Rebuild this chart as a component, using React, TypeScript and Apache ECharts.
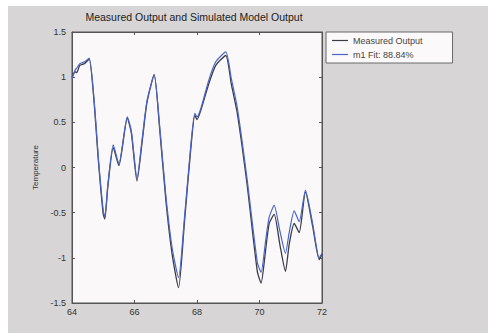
import React, { useEffect, useRef } from "react";
import * as echarts from "echarts";

const time = [64.0, 64.1, 64.15, 64.25, 64.4, 64.55, 64.7, 64.85, 65.0, 65.05, 65.15, 65.32, 65.5, 65.77, 65.9, 66.08, 66.25, 66.4, 66.63, 66.8, 67.0, 67.2, 67.41, 67.6, 67.8, 67.93, 68.0, 68.12, 68.38, 68.6, 68.92, 69.1, 69.29, 69.6, 69.93, 70.05, 70.2, 70.31, 70.47, 70.65, 70.83, 70.95, 71.11, 71.27, 71.47, 71.7, 71.91, 72.0];

const measured = [1.0, 1.06, 1.05, 1.13, 1.15, 1.2, 0.75, 0.05, -0.52, -0.57, -0.2, 0.22, 0.02, 0.55, 0.38, -0.15, 0.3, 0.72, 1.03, 0.45, -0.35, -0.95, -1.33, -0.6, 0.2, 0.58, 0.53, 0.63, 0.93, 1.13, 1.24, 0.92, 0.6, -0.18, -1.15, -1.28, -0.9, -0.62, -0.52, -0.85, -1.15, -0.85, -0.62, -0.72, -0.27, -0.65, -1.02, -0.96];

const simulated = [0.98, 1.08, 1.1, 1.15, 1.17, 1.21, 0.78, 0.08, -0.48, -0.55, -0.18, 0.25, 0.04, 0.56, 0.4, -0.12, 0.33, 0.74, 1.02, 0.48, -0.3, -0.88, -1.22, -0.55, 0.24, 0.6, 0.56, 0.65, 0.97, 1.17, 1.28, 0.98, 0.66, -0.12, -1.05, -1.16, -0.8, -0.55, -0.42, -0.7, -0.95, -0.72, -0.48, -0.6, -0.25, -0.62, -1.0, -0.95];

const seriesNames = ["Measured Output", "m1 Fit: 88.84%"];
const titleText = "Measured Output and Simulated Model Output";
const yName = "Temperature";

const FONT = "Liberation Sans, Arial, sans-serif";

export default function App() {
  const ref = useRef<HTMLDivElement>(null);
  useEffect(() => {
    document.body.style.margin = "0";
    const chart = echarts.init(ref.current!, null, { renderer: "svg" });
    const tickStyle = { show: true, inside: true, length: 3, lineStyle: { color: "#555" } };
    const axisLine = { show: true, onZero: false, lineStyle: { color: "#555" } };
    chart.setOption({
      animation: false,
      backgroundColor: "#ffffff",
      graphic: [
        {
          type: "rect",
          z: -10,
          shape: { x: 8, y: 6, width: 480, height: 327 },
          style: { fill: "#d7d5d5" },
          silent: true,
        },
        {
          type: "text",
          x: 194,
          y: 17,
          style: {
            text: titleText,
            fill: "#222",
            font: `10.5px ${FONT}`,
            align: "center",
            verticalAlign: "middle",
          },
        },
      ],
      legend: {
        left: 326,
        top: 32,
        orient: "vertical",
        backgroundColor: "#fbf9f9",
        borderColor: "#6a6a6a",
        borderWidth: 1,
        borderRadius: 0,
        padding: [4, 30, 4, 6],
        icon: "rect",
        itemWidth: 16,
        itemHeight: 1.2,
        itemGap: 5,
        textStyle: { fontSize: 9, color: "#444", fontFamily: FONT },
        data: seriesNames,
      },
      grid: {
        left: 72,
        top: 32,
        width: 250,
        height: 271,
        show: true,
        backgroundColor: "#faf8f8",
        borderColor: "#555",
        borderWidth: 1,
      },
      xAxis: [
        {
          type: "value",
          min: 64,
          max: 72,
          interval: 2,
          axisLine,
          axisTick: tickStyle,
          splitLine: { show: false },
          axisLabel: { fontSize: 9, color: "#333", fontFamily: FONT, margin: 4 },
        },
        {
          type: "value",
          position: "top",
          min: 64,
          max: 72,
          interval: 2,
          axisLine,
          axisTick: tickStyle,
          splitLine: { show: false },
          axisLabel: { show: false },
        },
      ],
      yAxis: [
        {
          type: "value",
          min: -1.5,
          max: 1.5,
          interval: 0.5,
          name: yName,
          nameLocation: "middle",
          nameGap: 32,
          nameTextStyle: { fontSize: 8, color: "#333", fontFamily: FONT },
          axisLine,
          axisTick: tickStyle,
          splitLine: { show: false },
          axisLabel: { fontSize: 9, color: "#333", fontFamily: FONT, margin: 6 },
        },
        {
          type: "value",
          position: "right",
          min: -1.5,
          max: 1.5,
          interval: 0.5,
          axisLine,
          axisTick: tickStyle,
          splitLine: { show: false },
          axisLabel: { show: false },
        },
      ],
      series: [
        {
          name: seriesNames[0],
          type: "line",
          data: time.map((t, i) => [t, measured[i]]),
          symbol: "none",
          smooth: 0.2,
          lineStyle: { color: "#3c3c48", width: 1.3 },
          itemStyle: { color: "#3c3c48" },
        },
        {
          name: seriesNames[1],
          type: "line",
          data: time.map((t, i) => [t, simulated[i]]),
          symbol: "none",
          smooth: 0.2,
          lineStyle: { color: "#4a66c4", width: 1.2 },
          itemStyle: { color: "#4a66c4" },
        },
      ],
    });
    return () => chart.dispose();
  }, []);
  return <div ref={ref} style={{ width: 488, height: 336 }} />;
}
